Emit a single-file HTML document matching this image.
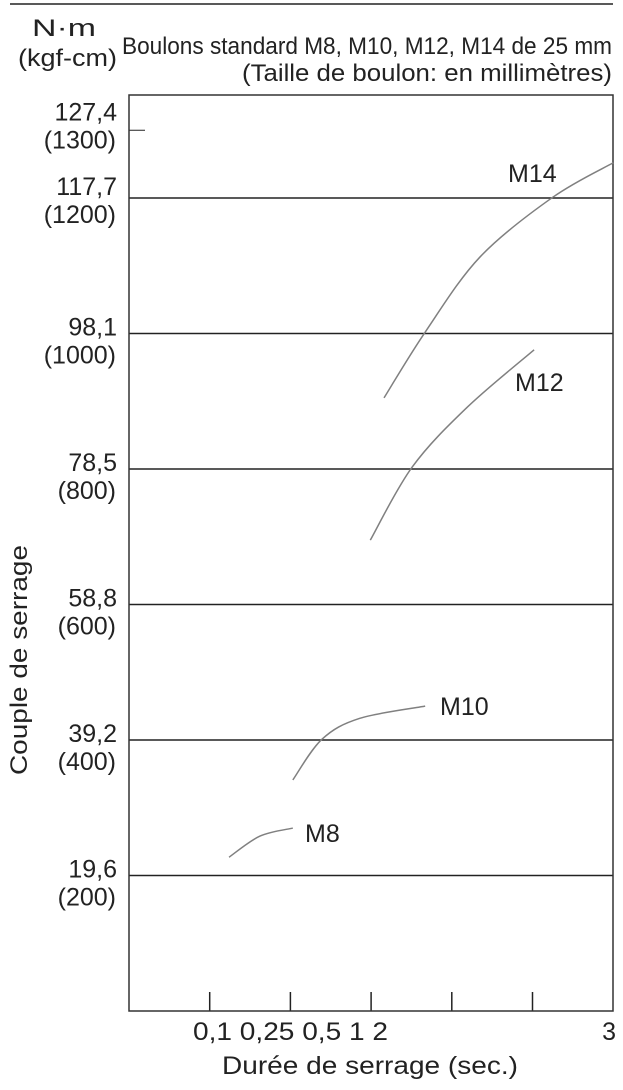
<!DOCTYPE html>
<html><head><meta charset="utf-8"><style>
body{margin:0;background:#fff}
svg{display:block;font-family:"Liberation Sans",sans-serif;fill:#222}
</style></head><body>
<svg width="623" height="1090" viewBox="0 0 623 1090">
<line x1="10" y1="4" x2="613" y2="4" stroke="#222" stroke-width="1.5"/>
<text x="32" y="36" font-size="24" textLength="64" lengthAdjust="spacingAndGlyphs">N·m</text>
<text x="18" y="66" font-size="24" textLength="99" lengthAdjust="spacingAndGlyphs">(kgf-cm)</text>
<text x="612" y="54" font-size="24" text-anchor="end" textLength="490" lengthAdjust="spacingAndGlyphs">Boulons standard M8, M10, M12, M14 de 25 mm</text>
<text x="612" y="81" font-size="24" text-anchor="end" textLength="370" lengthAdjust="spacingAndGlyphs">(Taille de boulon: en millimètres)</text>
<g id="grid"></g>
<rect x="129" y="95" width="484" height="916" fill="none" stroke="#333" stroke-width="1.5"/>
<g id="marks"></g>
<text x="27" y="660" font-size="24" text-anchor="middle" textLength="230" lengthAdjust="spacingAndGlyphs" transform="rotate(-90 27 660)">Couple de serrage</text>
<text x="193" y="1040" font-size="25" textLength="195" lengthAdjust="spacingAndGlyphs">0,1 0,25 0,5 1 2</text>
<text x="616" y="1040" font-size="25" text-anchor="end">3</text>
<text x="222" y="1074" font-size="25" textLength="296" lengthAdjust="spacingAndGlyphs">Durée de serrage (sec.)</text>
</svg>
<script>
const yTicks=[1300,1200,1000,800,600,400,200];
const yNm=["127,4","117,7","98,1","78,5","58,8","39,2","19,6"];
const xTicks=[1,2,3,4,5];
const seriesNames=["M14","M12","M10","M8"];
const m14X=[3.16,3.67,4.35,5.25,6.0], m14Y=[905,1002,1113,1201,1252];
const m12X=[2.99,3.51,4.19,5.02], m12Y=[695,803,891,976];
const m10X=[2.03,2.39,2.86,3.67], m10Y=[341,401,432,450];
const m8X=[1.24,1.62,2.03], m8Y=[227,258,270];
const xs=i=>129+i*80.7;
const ys=v=>1011-v*0.6775;
const NS="http://www.w3.org/2000/svg";
const grid=document.getElementById('grid'),marks=document.getElementById('marks'),svg=document.querySelector('svg');
yTicks.forEach((v,k)=>{
  const off=k===0?-10:(k===1?-3:2);
  const l=document.createElementNS(NS,'line');
  
  
  l.setAttribute('x1',129);l.setAttribute('x2',k===0?145:613);
  l.setAttribute('y1',ys(v));l.setAttribute('y2',ys(v));
  l.setAttribute('stroke','#222');l.setAttribute('stroke-width',k===0?1:1.6);
  grid.appendChild(l);
  const t1=document.createElementNS(NS,'text');
  
  
  t1.setAttribute('x',117);t1.setAttribute('y',ys(v)+off);t1.setAttribute('text-anchor','end');t1.setAttribute('font-size','25');
  t1.textContent=yNm[k];svg.appendChild(t1);
  const t2=document.createElementNS(NS,'text');
  
  
  t2.setAttribute('x',116);t2.setAttribute('y',ys(v)+off+28);t2.setAttribute('text-anchor','end');t2.setAttribute('font-size','25');
  t2.textContent='('+v+')';svg.appendChild(t2);
});
xTicks.forEach(i=>{
  const l=document.createElementNS(NS,'line');
  
  
  l.setAttribute('x1',xs(i));l.setAttribute('x2',xs(i));l.setAttribute('y1',992);l.setAttribute('y2',1011);
  l.setAttribute('stroke','#222');l.setAttribute('stroke-width',1.5);
  grid.appendChild(l);
});
function pathD(X,Y){
  const p=X.map((x,i)=>[xs(x),ys(Y[i])]);
  let d='M'+p[0][0]+','+p[0][1];
  for(let i=0;i<p.length-1;i++){
    const p0=p[i-1]||p[i],p1=p[i],p2=p[i+1],p3=p[i+2]||p2;
    const c1=[p1[0]+(p2[0]-p0[0])/6,p1[1]+(p2[1]-p0[1])/6];
    const c2=[p2[0]-(p3[0]-p1[0])/6,p2[1]-(p3[1]-p1[1])/6];
    d+=' C'+c1+' '+c2+' '+p2;
  }
  return d;
}
const all=[[m14X,m14Y],[m12X,m12Y],[m10X,m10Y],[m8X,m8Y]];
const labelPos=[[508,182],[515,391],[440,715],[305,842]];
all.forEach((s,k)=>{
  const p=document.createElementNS(NS,'path');
  
  
  p.setAttribute('d',pathD(s[0],s[1]));p.setAttribute('fill','none');p.setAttribute('stroke','#808080');p.setAttribute('stroke-width','1.5');
  marks.appendChild(p);
  const t=document.createElementNS(NS,'text');
  
  
  t.setAttribute('x',labelPos[k][0]);t.setAttribute('y',labelPos[k][1]);t.setAttribute('font-size','25');
  t.textContent=seriesNames[k];marks.appendChild(t);
});
</script>
</body></html>
